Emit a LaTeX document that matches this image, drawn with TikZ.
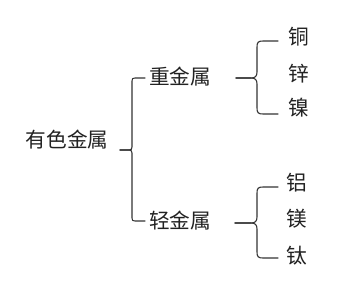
\documentclass[tikz,border=0pt]{standalone}
\usepackage{fontspec}
\setmainfont{Noto Sans CJK SC}
\definecolor{txtc}{HTML}{222222}
\definecolor{linec}{HTML}{333333}
\newcommand{\cbrace}[7]{% #1 tipx, #2 midy, #3 vx, #4 topy, #5 boty, #6 endx, #7 radius
  \draw[bline] (#6,#4) -- (#3+#7,#4) .. controls (#3+#7*0.2,#4) and (#3,#4+#7*0.2) .. (#3,#4+#7)
    -- (#3,#2-#7) .. controls (#3,#2-#7*0.3) and (#3-#7*0.3,#2) .. (#3-#7,#2) -- (#1,#2);
  \draw[bline] (#1,#2) -- (#3-#7,#2) .. controls (#3-#7*0.3,#2) and (#3,#2+#7*0.3) .. (#3,#2+#7)
    -- (#3,#5-#7) .. controls (#3,#5-#7*0.2) and (#3+#7*0.2,#5) .. (#3+#7,#5) -- (#6,#5);
}
\begin{document}
\begin{tikzpicture}[x=0.75pt,y=-0.75pt,
  lbl/.style={inner sep=0pt,outer sep=0pt,text=txtc,font=\fontsize{15.5pt}{16pt}\selectfont,
    text height=0.88em,text depth=0.12em,anchor=center},
  bline/.style={draw=linec,line width=0.8pt,line cap=round,line join=round}]
\useasboundingbox[fill=white] (0,0) rectangle (360,287);
\node[lbl] (root) at (67,142) {有色金属};
\node[lbl] (heavy) at (180,79) {重金属};
\node[lbl] (light) at (180,223) {轻金属};
\node[lbl] (cu) at (299,39) {铜};
\node[lbl] (zn) at (299,76) {锌};
\node[lbl] (ni) at (299,110) {镍};
\node[lbl] (al) at (297,185) {铝};
\node[lbl] (mg) at (297,221) {镁};
\node[lbl] (ti) at (297,258) {钛};
% big brace
\cbrace{120}{150}{132}{78}{221}{145}{3}
% heavy metals brace
\cbrace{236}{78}{257}{41}{114}{278}{6}
% light metals brace
\cbrace{235}{223}{257}{187}{258}{278}{6}
\end{tikzpicture}
\end{document}
